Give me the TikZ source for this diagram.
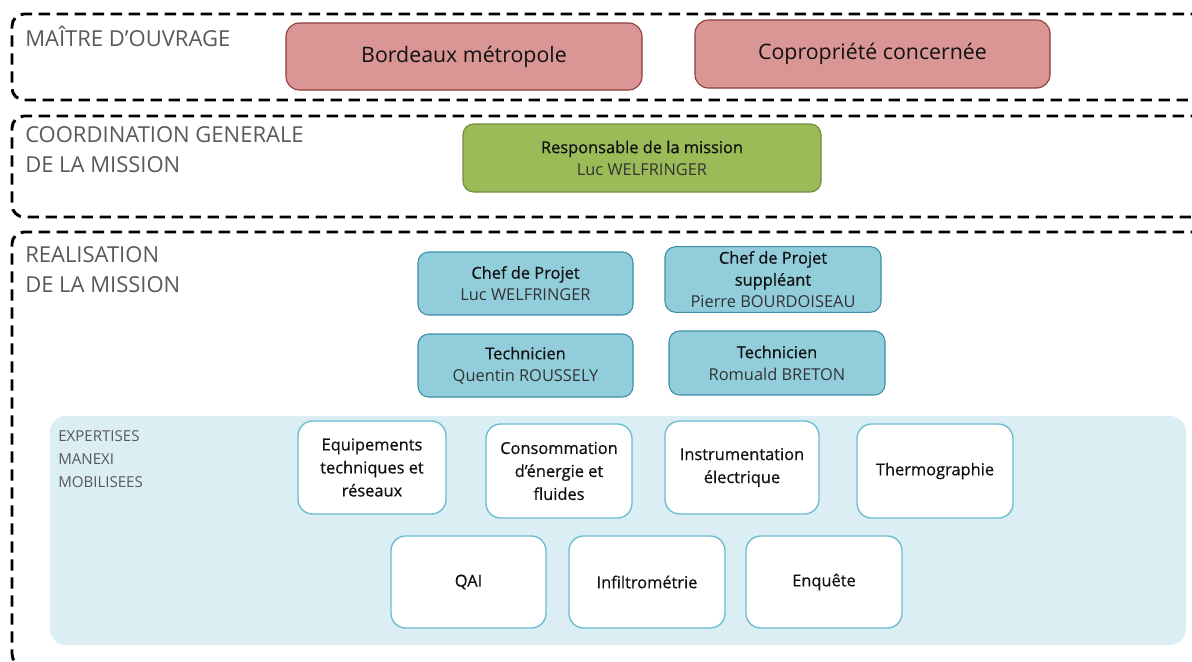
\documentclass[tikz,border=0pt]{standalone}
\usepackage{fontspec}
\setmainfont{Open Sans}
\newfontfamily\semib{Open Sans}[FakeBold=0.6]
\usetikzlibrary{positioning}
\definecolor{labgray}{HTML}{595959}
\definecolor{namegray}{HTML}{333333}
\definecolor{titleblack}{HTML}{111111}
\definecolor{redfill}{HTML}{D99694}
\definecolor{redline}{HTML}{8C3B3A}
\definecolor{greenfill}{HTML}{9BBB59}
\definecolor{greenline}{HTML}{71893F}
\definecolor{bluefill}{HTML}{92CDDC}
\definecolor{blueline}{HTML}{3A8FA5}
\definecolor{panelfill}{HTML}{DAEEF3}
\definecolor{whiteline}{HTML}{6BBCD1}
\newcommand\nm[1]{{\fontspec{Open Sans}\color{namegray}#1}}
\tikzset{
  section/.style={draw=black, line width=2.2pt, dash pattern=on 8.5pt off 5pt, rounded corners=9pt},
  seclabel/.style={anchor=north west, align=left, text=labgray, inner sep=0pt, font=\fontsize{16.5}{22.5}\selectfont},
  redbox/.style={draw=redline, fill=redfill, line width=0.8pt, rounded corners=10pt, align=center, text=titleblack, font=\fontsize{16}{20}\selectfont},
  greenbox/.style={draw=greenline, fill=greenfill, line width=0.8pt, rounded corners=8pt, align=center, text=titleblack, font=\semib\fontsize{12.3}{16.5}\selectfont},
  bluebox/.style={draw=blueline, fill=bluefill, line width=0.8pt, rounded corners=8pt, align=center, text=titleblack, font=\semib\fontsize{12.3}{16.5}\selectfont},
  panel/.style={fill=panelfill, draw=none, rounded corners=12pt},
  whitebox/.style={draw=whiteline, fill=white, line width=1pt, rounded corners=11pt, align=center, text=titleblack, font=\semib\fontsize{12.3}{17.25}\selectfont},
}
\begin{document}
\begin{tikzpicture}[x=0.75pt,y=-0.75pt]
\useasboundingbox (0,0) rectangle (1192,661);
\fill[white] (0,0) rectangle (1192,661);
\clip (0,0) rectangle (1192,661);
% sections
\draw[section] (1220,14) -- (12,14) -- (12,100) -- (1220,100);
\draw[section] (1220,116) -- (12,116) -- (12,217) -- (1220,217);
\draw[section] (1220,232) -- (12,232) -- (12,666) -- (1220,666);
\node[seclabel] (lab1) at (25,26) {MAÎTRE D'OUVRAGE};
\node[seclabel] (lab2) at (25,126) {COORDINATION GENERALE\\DE LA MISSION};
\node[seclabel] (lab3) at (25,246) {REALISATION\\DE LA MISSION};
% maitre d'ouvrage
\node[redbox, minimum width=267pt, minimum height=50.25pt] (bdx) at (464,56.5) {Bordeaux métropole};
\node[redbox, minimum width=266.25pt, minimum height=51pt] (copro) at (872.5,54) {Copropriété concernée};
% coordination
\node[greenbox, minimum width=268.5pt, minimum height=51pt] (resp) at (642,158) {Responsable de la mission\\\nm{Luc WELFRINGER}};
% realisation
\node[bluebox, minimum width=161.25pt, minimum height=47.25pt] (chef) at (525.5,283.5) {Chef de Projet\\\nm{Luc WELFRINGER}};
\node[bluebox, minimum width=162pt, minimum height=48.75pt] (supp) at (773,279.5) {Chef de Projet\\suppléant\\\nm{Pierre BOURDOISEAU}};
\node[bluebox, minimum width=161.25pt, minimum height=47.25pt] (tech1) at (525.5,365.5) {Technicien\\\nm{Quentin ROUSSELY}};
\node[bluebox, minimum width=162pt, minimum height=48pt] (tech2) at (777,363) {Technicien\\\nm{Romuald BRETON}};
% expertises panel
\node[panel, minimum width=852pt, minimum height=171.75pt] (pan) at (618,530.5) {};
\node[seclabel, font=\fontsize{11.3}{17.25}\selectfont] (lab4) at (58,430) {EXPERTISES\\MANEXI\\MOBILISEES};
\node[whitebox, minimum width=111pt, minimum height=69.75pt] (equip) at (372,467.5) {Equipements\\techniques et\\réseaux};
\node[whitebox, minimum width=109.5pt, minimum height=70.5pt] (conso) at (559,471) {Consommation\\d’énergie et\\fluides};
\node[whitebox, minimum width=115.5pt, minimum height=69.75pt] (instr) at (742,467.5) {Instrumentation\\électrique};
\node[whitebox, minimum width=117pt, minimum height=70.5pt] (thermo) at (935,471) {Thermographie};
\node[whitebox, minimum width=116.25pt, minimum height=69pt] (qai) at (468.5,582) {QAI};
\node[whitebox, minimum width=117pt, minimum height=69pt] (infil) at (647,582) {Infiltrométrie};
\node[whitebox, minimum width=117pt, minimum height=69pt] (enq) at (824,582) {Enquête};
\end{tikzpicture}
\end{document}
